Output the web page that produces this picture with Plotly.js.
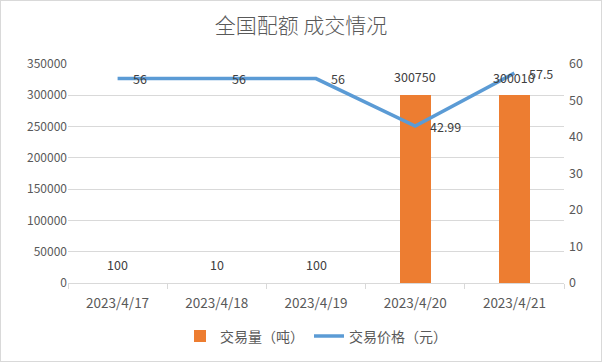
<!DOCTYPE html>
<html><head><meta charset="utf-8">
<script src="https://cdn.plot.ly/plotly-3.0.1.min.js"></script>
<style>body{margin:0;padding:0;background:#fff}#c{width:600px;height:360px;border:1px solid #d9d9d9}</style>
</head><body><div id="c"></div>
<script>
const categories = ['2023/4/17','2023/4/18','2023/4/19','2023/4/20','2023/4/21'];
const volume = [100, 10, 100, 300750, 300010];
const price = [56, 56, 56, 42.99, 57.5];
const volumeLabels = ['100','10','100','300750','300010'];
const priceLabels = ['56','56','56','42.99','57.5'];
const leftTicks = [0,50000,100000,150000,200000,250000,300000,350000];
const rightTicks = [0,10,20,30,40,50,60];

const font = '"Noto Sans CJK SC", "Noto Sans", sans-serif';
const traces = [
  {type:'bar', x:categories, y:volume, name:'交易量（吨）', marker:{color:'#ed7d31'}, width:0.31, yaxis:'y', hoverinfo:'none'},
  {type:'scatter', mode:'lines', x:categories, y:price, name:'交易价格（元）', yaxis:'y2',
   line:{color:'#5b9bd5', width:3.5}, hoverinfo:'none'}
];
const annotations = categories.map((c,i)=>({x:c, y:volume[i], xref:'x', yref:'y', text:volumeLabels[i],
  showarrow:false, yshift:18, font:{size:12.5, color:'#404040', family:font}}))
 .concat(categories.map((c,i)=>({x:c, y:price[i], xref:'x', yref:'y2', text:priceLabels[i],
  showarrow:false, xanchor:'left', xshift:13, font:{size:12.5, color:'#404040', family:font}})));
const layout = {
  width:600, height:360,
  margin:{l:67, r:37, t:63, b:78, autoexpand:false},
  paper_bgcolor:'#fff', plot_bgcolor:'#fff',
  font:{family:font, size:12, color:'#595959'},
  title:{text:'全国配额 成交情况', font:{size:21, color:'#595959', family:font, weight:300}, x:0.5, xanchor:'center', y:0.932, yanchor:'middle'},
  bargap:0,
  xaxis:{type:'category', automargin:false, tickson:'boundaries', ticks:'outside', ticklen:5, tickcolor:'#d9d9d9',
    showline:true, linecolor:'#d9d9d9', linewidth:1, showgrid:false, ticklabelstandoff:8, tickfont:{size:13.5, color:'#595959'}},
  yaxis:{range:[0,350000], automargin:false, tickvals:leftTicks, ticktext:leftTicks.map(String), showgrid:true, gridcolor:'#d9d9d9',
    zeroline:false, showline:false, ticks:'', tickfont:{size:12, color:'#595959'}},
  yaxis2:{range:[0,60], automargin:false, tickvals:rightTicks, overlaying:'y', side:'right', showgrid:false, zeroline:false,
    showline:false, ticklabelstandoff:4, tickfont:{size:12.5, color:'#595959'}},
  legend:{orientation:'h', x:0.5, xanchor:'center', yref:'container', y:0.068, yanchor:'middle', font:{size:14, color:'#595959'}},
  annotations:annotations,
  showlegend:true
};
Plotly.newPlot('c', traces, layout, {displayModeBar:false, staticPlot:true});
</script></body></html>
